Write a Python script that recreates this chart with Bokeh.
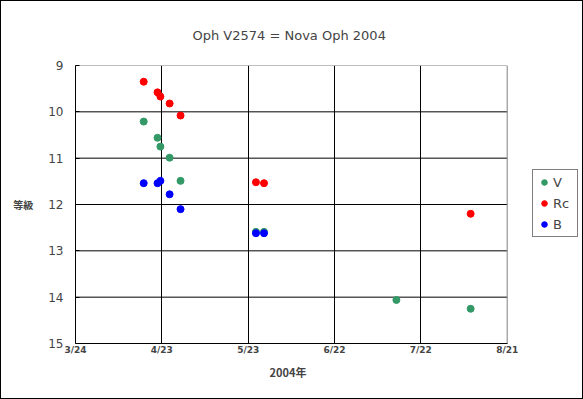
from bokeh.plotting import figure
from bokeh.models import Range1d, FixedTicker, Legend, LegendItem, Title
from bokeh.embed import file_html
from bokeh.resources import INLINE

# Day of year 2004 (3/24 = 84)
v_day = [107.7, 112.5, 113.5, 116.7, 120.5, 146.7, 149.5, 195.5, 221.3]
v_mag = [10.21, 10.56, 10.75, 10.99, 11.49, 12.59, 12.59, 14.06, 14.25]
rc_day = [107.7, 112.5, 113.5, 116.7, 120.5, 146.7, 149.5, 221.3]
rc_mag = [9.35, 9.58, 9.67, 9.82, 10.08, 11.52, 11.54, 12.20]
b_day = [107.7, 112.5, 113.5, 116.7, 120.5, 146.7, 149.5]
b_mag = [11.54, 11.54, 11.49, 11.78, 12.10, 12.62, 12.62]

x_ticks = [84, 114, 144, 174, 204, 234]
x_labels = ["3/24", "4/23", "5/23", "6/22", "7/22", "8/21"]
y_ticks = [9, 10, 11, 12, 13, 14, 15]

x0, x1 = x_ticks[0], x_ticks[-1]
y_top, y_bot = y_ticks[0], y_ticks[-1]
# the frame extends to the right edge to host the legend; plot area is 430px wide
plot_px, frame_px = 430, 507
x_end = x1 + (x1 - x0) * (frame_px - plot_px) / plot_px

p = figure(width=583, height=399, output_backend="svg", toolbar_location=None,
           x_range=Range1d(x0, x_end), y_range=Range1d(y_bot, y_top),
           min_border_left=74, min_border_right=0, min_border_top=64, min_border_bottom=57)
p.styles = {"border": "1px solid black", "box-sizing": "border-box"}

p.outline_line_color = None
p.background_fill_color = "white"
p.border_fill_color = "white"

p.xaxis.ticker = FixedTicker(ticks=x_ticks)
p.xaxis.major_label_overrides = dict(zip(x_ticks, x_labels))
p.xaxis.bounds = (x0, x1)
p.yaxis.ticker = FixedTicker(ticks=y_ticks)

for ax in (p.xaxis[0], p.yaxis[0]):
    ax.axis_line_color = "black"
    ax.minor_tick_line_color = None
    ax.major_tick_line_color = "black"

p.xaxis.major_tick_in = 0
p.xaxis.major_tick_out = 0
p.yaxis.major_tick_in = 4
p.yaxis.major_tick_out = 0

p.xaxis.major_label_text_font = "DejaVu Sans"
p.xaxis.major_label_text_font_style = "bold"
p.xaxis.major_label_text_font_size = "9px"
p.xaxis.major_label_standoff = 1
p.xaxis.axis_label_standoff = 0

p.yaxis.major_label_text_font = "DejaVu Sans"
p.yaxis.major_label_text_font_size = "12px"
p.yaxis.major_label_standoff = 12
p.yaxis.axis_label = "等級"
p.yaxis.axis_label_orientation = "horizontal"
p.yaxis.axis_label_text_font = "Noto Sans CJK JP"
p.yaxis.axis_label_text_font_style = "bold"
p.yaxis.axis_label_text_font_size = "10px"
p.yaxis.axis_label_standoff = 12

# grid lines limited to the plot area
p.xgrid.ticker = FixedTicker(ticks=x_ticks[1:-1])
p.xgrid.grid_line_color = "black"
p.ygrid.grid_line_color = None
inner_y = y_ticks[1:-1]
p.segment(x0=[x0] * len(inner_y), y0=inner_y, x1=[x1] * len(inner_y), y1=inner_y,
          line_color="black", line_width=1)
# plot-area border (top, right)
p.segment(x0=[x0], y0=[y_top], x1=[x1], y1=[y_top], line_color="#808080", line_width=1)
p.segment(x0=[x1], y0=[y_bot], x1=[x1], y1=[y_top], line_color="#808080", line_width=1)

rv = p.scatter(v_day, v_mag, size=7, color="#339966")
rr = p.scatter(rc_day, rc_mag, size=7, color="#FF0000")
rb = p.scatter(b_day, b_mag, size=7, color="#0000FF")

legend = Legend(items=[LegendItem(label="V", renderers=[rv]),
                       LegendItem(label="Rc", renderers=[rr]),
                       LegendItem(label="B", renderers=[rb])],
                location=(457, 106), border_line_color="black",
                label_text_font="DejaVu Sans", label_text_font_size="13px",
                glyph_width=14, glyph_height=16, label_height=16, label_standoff=2,
                padding=4, spacing=5, margin=0, background_fill_alpha=1)
p.add_layout(legend, "center")

p.add_layout(Title(text="Oph V2574 = Nova Oph 2004", align="left", offset=117,
                   text_font="DejaVu Sans", text_font_size="13px",
                   text_font_style="normal", standoff=46), "above")

p.add_layout(Title(text="2004年", align="left", offset=194,
                   text_font="Noto Sans CJK JP", text_font_size="11px",
                   text_font_style="bold", standoff=9), "below")

open("out.html", "w").write(file_html(p, INLINE))
